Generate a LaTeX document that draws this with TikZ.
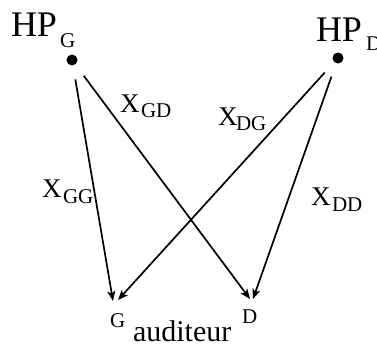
\documentclass[tikz,border=0pt]{standalone}
\usepackage{fontspec}
\setmainfont{Liberation Serif}
\usetikzlibrary{arrows.meta}
\begin{document}
\begin{tikzpicture}[x=1pt,y=-1pt,
  lbl/.style={inner sep=0pt, outer sep=0pt, anchor=base west},
  big/.style={font=\fontsize{36}{36}\selectfont},
  xl/.style={font=\fontsize{27}{27}\selectfont},
  sub/.style={font=\fontsize{21}{21}\selectfont},
  aud/.style={font=\fontsize{30}{30}\selectfont},
  conn/.style={line width=1.7pt, -{Stealth[length=10pt,width=8pt,inset=2.5pt]}, shorten <=14pt},
  spk/.style={circle, fill=black, inner sep=0pt, minimum size=11pt}]
\useasboundingbox (0,0) rectangle (377,345);
% speaker labels
\node[lbl,big] (hpG) at (11,36.5) {HP};
\node[lbl,sub] (hpGs) at (60,48) {G};
\node[lbl,big] (hpD) at (316,41.5) {HP};
\node[lbl,sub] (hpDs) at (366,50) {D};
% speakers
\node[spk] (dG) at (72,60) {};
\node[spk] (dD) at (338,58) {};
% ear targets
\coordinate (tGG) at (113,301);
\coordinate (tDG) at (118,300);
\coordinate (tGD) at (250,299);
\coordinate (tDD) at (253,299);
% connectors
\draw[conn] (dG) -- (tGG);
\draw[conn] (dG) -- (tGD);
\draw[conn] (dD) -- (tDG);
\draw[conn] (dD) -- (tDD);
% path labels
\node[lbl,xl] (xGD) at (120,112) {X};
\node[lbl,sub] (xGDs) at (141,117) {GD};
\node[lbl,xl] (xDG) at (218,125) {X};
\node[lbl,sub] (xDGs) at (236,130) {DG};
\node[lbl,xl] (xGG) at (42,197) {X};
\node[lbl,sub] (xGGs) at (63,203) {GG};
\node[lbl,xl] (xDD) at (311,205) {X};
\node[lbl,sub] (xDDs) at (332,211) {DD};
% listener
\node[lbl,sub] (earG) at (110,327) {G};
\node[lbl,aud] (listener) at (133,341) {auditeur};
\node[lbl,sub] (earD) at (242,323) {D};
\end{tikzpicture}
\end{document}
